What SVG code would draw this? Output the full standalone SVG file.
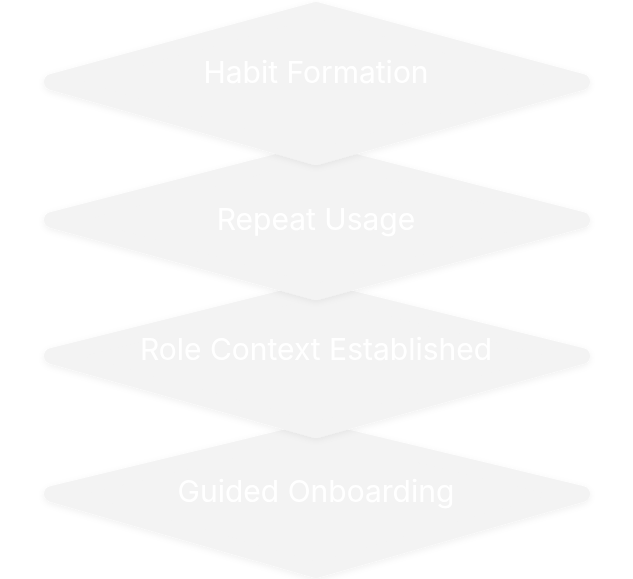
<svg xmlns="http://www.w3.org/2000/svg" width="633" height="579" viewBox="0 0 633 579">
<style>
.d{fill:#f3f3f3;stroke:#f3f3f3;stroke-width:16;stroke-linejoin:round}
.t{fill:#ffffff;font-family:Inter,"Noto Sans",sans-serif;font-size:30px;text-anchor:middle;dominant-baseline:central}
</style>
<defs><filter id="s" x="-10%" y="-10%" width="120%" height="130%"><feDropShadow dx="0" dy="2" stdDeviation="3" flood-color="#000" flood-opacity="0.06"/></filter></defs>
<rect width="633" height="579" fill="#ffffff"/>
<g id="n4" filter="url(#s)"><polygon class="d" points="316,430 582,494 316,570 52,494"/><text class="t" x="316" y="491">Guided Onboarding</text></g>
<g id="n3" filter="url(#s)"><polygon class="d" points="316,290 582,356 316,430 52,356"/><text class="t" x="316" y="349">Role Context Established</text></g>
<g id="n2" filter="url(#s)"><polygon class="d" points="316,152 582,220 316,292 52,220"/><text class="t" x="316" y="219">Repeat Usage</text></g>
<g id="n1" filter="url(#s)"><polygon class="d" points="316,10 582,82 316,157 52,82"/><text class="t" x="316" y="72">Habit Formation</text></g>
<g id="connectors"/>
</svg>
